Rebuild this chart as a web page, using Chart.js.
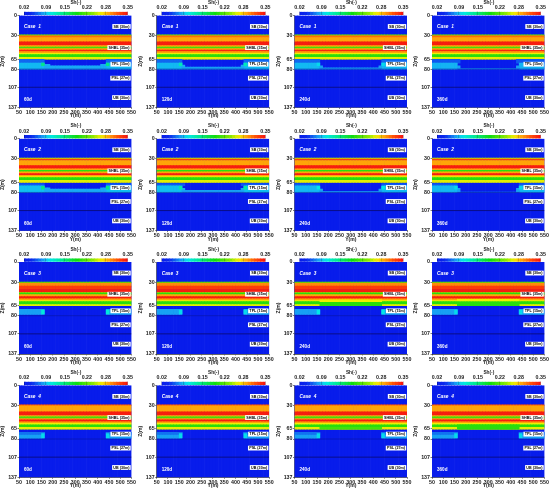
<!DOCTYPE html>
<html><head><meta charset="utf-8">
<style>
html,body{margin:0;padding:0;background:#fff;width:550px;height:490px;overflow:hidden}
canvas{position:absolute;filter:blur(0.25px)}
</style>
<script src="https://cdn.jsdelivr.net/npm/chart.js@4/dist/chart.umd.min.js"></script>
</head><body>
<script>
const caseNames=['Case  1','Case  2','Case  3','Case  4'];
const dayNames=['60d','120d','240d','360d'];
const yTicks=[50,100,150,200,250,300,350,400,450,500,550];
const zTicks=[0,30,65,80,107,137];
const shTicks=[0.02,0.09,0.15,0.22,0.28,0.35];
const layerNames=['SB (30m)','SHBL (35m)','TPL (15m)','PSL (27m)','UB (30m)'];
const layerDepths=[16.5,48,72.7,93.5,122.4];
const boundaryDepths=[80,107];
const shLevels=[0.02,0.03,0.04,0.05,0.06,0.07,0.08,0.09,0.1,0.11,0.12,0.13,0.14,0.15,0.16,0.17,0.18,0.19,0.2,0.21,0.22,0.23,0.24,0.25,0.26,0.27,0.28,0.29,0.3,0.31,0.32,0.33,0.34,0.35];
const yCells=[56.25,68.75,81.25,93.75,106.25,118.75,131.25,143.75,156.25,168.75,181.25,193.75,206.25,218.75,231.25,243.75,256.25,268.75,281.25,293.75,306.25,318.75,331.25,343.75,356.25,368.75,381.25,393.75,406.25,418.75,431.25,443.75,456.25,468.75,481.25,493.75,506.25,518.75,531.25,543.75];

// hydrate bands: [top depth, bottom depth, Sh]
const bandsCase1=[[0,29,.02],[29,30.5,.225],[30.5,33,.31],[33,39.5,.29],[39.5,45,.345],[45,47,.29],[47,49.5,.21],[49.5,51.5,.29],[51.5,54,.34],[54,56.5,.29],[56.5,58.5,.265],[58.5,62.5,.2],[62.5,65.3,.262]];
const bandsCase2=[[0,29,.02],[29,30.5,.25],[30.5,32.5,.33],[32.5,40,.29],[40,45,.345],[45,47,.29],[47,49.5,.2],[49.5,52,.29],[52,54.5,.345],[54.5,56.5,.29],[56.5,58,.265],[58,62,.2],[62,65,.262]];
const bandsCase3=[[0,29.8,.02],[29.8,31.3,.21],[31.3,36,.3],[36,41,.33],[41,45,.345],[45,45.8,.29],[45.8,48.5,.2],[48.5,51.5,.29],[51.5,55,.345],[55,57.5,.29],[57.5,59,.265],[59,63.5,.2],[63.5,65,.262]];
const bandsCase4=[[0,29.2,.02],[29.2,30.5,.32],[30.5,39.5,.29],[39.5,45,.345],[45,47,.29],[47,49.5,.21],[49.5,51.5,.29],[51.5,54.5,.345],[54.5,56.5,.29],[56.5,59,.265],[59,62.5,.2],[62.5,65.3,.262]];

// local zones: [Y start, Y end, top depth, bottom depth, Sh]
const zonesC1D60=[[50,162.5,65.5,71,.065],[437.5,550,65.5,71,.065],[50,162.5,71,80,.09],[437.5,550,71,80,.09],[162.5,437.5,75,80,.085],[162.5,187.5,73,75,.085],[412.5,437.5,73,75,.085],[150,162.5,71,75,.145],[437.5,450,71,75,.145]];
const zonesC1D120=[[50,162.5,65.5,71,.065],[437.5,550,65.5,71,.065],[50,162.5,71,80,.09],[437.5,550,71,80,.09],[162.5,437.5,77,80,.082],[162.5,175,74,77,.085],[425,437.5,74,77,.085],[150,162.5,71,75,.125],[437.5,450,71,75,.125]];
const zonesC1D240=[[50,162.5,65.5,71,.065],[437.5,550,65.5,71,.065],[50,162.5,71,80,.09],[437.5,550,71,80,.09],[162.5,437.5,78,80,.078],[162.5,175,75,78,.082],[425,437.5,75,78,.082],[150,162.5,71,75,.1],[437.5,450,71,75,.1]];
const zonesC1D360=[[50,175,65.5,71,.06],[425,550,65.5,71,.06],[50,162.5,71,80,.088],[437.5,550,71,80,.088],[162.5,437.5,79,80,.068],[162.5,175,75,79,.082],[425,437.5,75,79,.082]];
const zonesC2D60=[[50,162.5,67,70,.06],[437.5,550,67,70,.06],[50,162.5,70,80,.092],[437.5,550,70,80,.092],[162.5,437.5,75,80,.085],[162.5,187.5,73,75,.085],[412.5,437.5,73,75,.085],[150,162.5,71,75,.145],[437.5,450,71,75,.145]];
const zonesC2D120=[[50,175,67,70,.06],[425,550,67,70,.06],[50,162.5,70,80,.092],[437.5,550,70,80,.092],[162.5,437.5,77,80,.082],[162.5,175,74,77,.085],[425,437.5,74,77,.085],[150,162.5,71,75,.13],[437.5,450,71,75,.13]];
const zonesC2D240=[[50,162.5,67,70,.06],[437.5,550,67,70,.06],[50,162.5,70,80,.09],[437.5,550,70,80,.09],[162.5,437.5,78.5,80,.075],[162.5,175,75,78.5,.082],[425,437.5,75,78.5,.082],[150,162.5,71,75,.105],[437.5,450,71,75,.105]];
const zonesC2D360=[[50,162.5,67,70,.06],[437.5,550,67,70,.06],[50,162.5,70,80,.09],[437.5,550,70,80,.09],[162.5,437.5,79.3,80,.06],[162.5,175,74,79.3,.082],[425,437.5,74,79.3,.082],[150,162.5,71,75,.1],[437.5,450,71,75,.1]];
const zonesC3D60=[[50,162.5,70.5,78,.082],[437.5,550,70.5,78,.082],[150,162.5,71.5,77.5,.11],[437.5,450,71.5,77.5,.11]];
const zonesC3D120=[[50,162.5,70.5,78,.082],[437.5,550,70.5,78,.082],[150,162.5,71.5,77.5,.1],[437.5,450,71.5,77.5,.1]];
const zonesC3D240=[[162.5,437.5,59,65,.2],[162.5,437.5,56.5,59,.265],[50,162.5,70.5,78,.082],[437.5,550,70.5,78,.082],[150,162.5,71.5,77.5,.105],[437.5,450,71.5,77.5,.105]];
const zonesC3D360=[[162.5,437.5,58,65,.2],[162.5,437.5,55.5,58,.265],[50,162.5,70.5,78,.082],[437.5,550,70.5,78,.082],[150,162.5,71.5,77.5,.1],[437.5,450,71.5,77.5,.1]];
const zonesC4D60=[[50,162.5,70,79,.082],[437.5,550,70,79,.082],[50,162.5,70,73,.068],[437.5,550,70,73,.068],[150,162.5,72,78,.1],[437.5,450,72,78,.1]];
const zonesC4D120=[[50,162.5,70,79,.082],[437.5,550,70,79,.082],[50,162.5,70,73,.068],[437.5,550,70,73,.068],[150,162.5,72,78,.1],[437.5,450,72,78,.1]];
const zonesC4D240=[[162.5,437.5,62.5,65.3,.21],[50,162.5,70,79,.082],[437.5,550,70,79,.082],[50,162.5,70,73,.068],[437.5,550,70,73,.068],[150,162.5,72,78,.1],[437.5,450,72,78,.1]];
const zonesC4D360=[[162.5,437.5,59,65.3,.2],[50,162.5,70,79,.082],[437.5,550,70,79,.082],[50,162.5,70,73,.068],[437.5,550,70,73,.068],[150,162.5,72,78,.1],[437.5,450,72,78,.1]];

const bandsByCase=[bandsCase1,bandsCase2,bandsCase3,bandsCase4];
const zonesByPanel=[
 [zonesC1D60,zonesC1D120,zonesC1D240,zonesC1D360],
 [zonesC2D60,zonesC2D120,zonesC2D240,zonesC2D360],
 [zonesC3D60,zonesC3D120,zonesC3D240,zonesC3D360],
 [zonesC4D60,zonesC4D120,zonesC4D240,zonesC4D360]];

// colour map
const cmapSh=[.02,.045,.065,.085,.105,.14,.19,.24,.265,.29,.32,.35];
const cmapRGB=[[8,28,235],[10,40,238],[16,104,240],[24,170,245],[0,232,232],[0,232,150],[16,220,16],[140,232,0],[240,240,0],[255,165,8],[255,80,8],[245,20,16]];
function shColor(v){
  let i=0; while(i<cmapSh.length-2&&v>cmapSh[i+1])i++;
  const t=Math.max(0,Math.min(1,(v-cmapSh[i])/(cmapSh[i+1]-cmapSh[i])));
  const c=cmapRGB[i].map((a,k)=>Math.round(a+(cmapRGB[i+1][k]-a)*t));
  return `rgb(${c[0]},${c[1]},${c[2]})`;
}

const FONT='"Liberation Sans",Arial,sans-serif';
const plotLeft=[19,156.7,294.5,432];
const plotTop=[15.4,138.7,262,385.3];
const PW=112.5,PH=92;
Chart.defaults.animation=false;
Chart.defaults.responsive=false;
Chart.defaults.font.family=FONT;
Chart.defaults.color='#222';

function mk(l,t,w,h){
  const c=document.createElement('canvas');
  c.style.left=l+'px';c.style.top=t+'px';c.width=w;c.height=h;
  c.style.width=w+'px';c.style.height=h+'px';
  document.body.appendChild(c);return c;
}
const labelPlugin={id:'layerLabels',afterDatasetsDraw(ch,a,o){
  const {ctx,chartArea:ar,scales:{y}}=ch;
  ctx.save();
  ctx.textBaseline='middle';
  layerNames.forEach((n,i)=>{
    const py=y.getPixelForValue(layerDepths[i]);
    ctx.font=`bold 3.7px ${FONT}`;
    const tw=ctx.measureText(n).width+2.4;
    ctx.fillStyle='#fff';
    ctx.fillRect(ar.right-0.8-tw,py-2.4,tw,4.8);
    ctx.fillStyle='#000';ctx.textAlign='center';
    ctx.fillText(n,ar.right-0.8-tw/2,py+0.2);
  });
  ctx.fillStyle='#fff';ctx.textAlign='left';
  ctx.font=`italic bold 4.8px ${FONT}`;
  ctx.fillText(o.caseName,ar.left+5,y.getPixelForValue(17));
  ctx.font=`bold 4.6px ${FONT}`;
  ctx.fillText(o.dayName,ar.left+5,y.getPixelForValue(126));
  ctx.restore();
}};

function fixedTicks(vals){return s=>{s.ticks=vals.map(v=>({value:v}));};}

function panel(r,c){
  const padTop=5,axisH=11.4,leftW=19;
  const L=Math.floor(plotLeft[c]-leftW), fracL=plotLeft[c]-leftW-L;
  const T=Math.floor(plotTop[r]-padTop), fracT=plotTop[r]-padTop-T;
  const W=Math.ceil(leftW+PW+8+fracL),H=Math.ceil(padTop+PH+axisH+fracT);
  const cv=mk(L,T,W,H);
  const zones=[[50,550,0,137,.02]].concat(bandsByCase[r].slice(1).map(b=>[50,550,b[0],b[1],b[2]]),zonesByPanel[r][c]);
  const ds=zones.map((z,i)=>({
    type:'bar',
    data:yCells.filter(x=>x>=z[0]&&x<=z[1]).map(x=>({x,y:[z[2],z[3]]})),
    backgroundColor:shColor(z[4]),borderWidth:0,
    barPercentage:1,categoryPercentage:1,grouped:false,
    order:1000-i
  }));
  boundaryDepths.forEach((d,i)=>ds.push({
    type:'line',data:[{x:50,y:d},{x:550,y:d}],
    borderColor:i?'#0a0a70':'#0a1490',borderWidth:i?0.8:0.5,pointRadius:0,order:-1
  }));
  new Chart(cv,{
    data:{datasets:ds},
    options:{
      layout:{padding:{left:fracL,top:padTop+fracT,right:W-fracL-leftW-PW,bottom:0}},
      plugins:{legend:{display:false},tooltip:{enabled:false},
        layerLabels:{caseName:caseNames[r],dayName:dayNames[c]}},
      scales:{
        x:{type:'linear',min:50,max:550,offset:false,
          afterBuildTicks:fixedTicks(yTicks),
          afterFit(s){s.height=H-padTop-fracT-PH;},
          grid:{drawOnChartArea:false,offset:false,tickLength:1.5,color:'#000',lineWidth:.5},
          border:{display:true,color:'#000',width:.6},
          ticks:{font:{size:5.3,weight:'bold'},padding:0.5,maxRotation:0,autoSkip:false},
          title:{display:true,text:'Y(m)',font:{size:5,weight:'bold'},padding:{top:0,bottom:0}}},
        y:{type:'linear',min:0,max:137,reverse:true,
          afterBuildTicks:fixedTicks(zTicks),
          afterFit(s){s.width=leftW;},
          grid:{drawOnChartArea:false,tickLength:1.5,color:'#000',lineWidth:.5},
          border:{display:true,color:'#000',width:.6},
          ticks:{font:{size:5.3,weight:'bold'},padding:0.5,autoSkip:false},
          title:{display:true,text:'Z(m)',font:{size:5,weight:'bold'},padding:{top:0,bottom:0}}}
      }
    },
    plugins:[labelPlugin]
  });
}

function colorbar(r,c){
  const axisH=11.9,padX=10;
  const barL=plotLeft[c]+5,barW=103.7,barT=plotTop[r]-3.6;
  const top=barT-axisH,T=Math.floor(top),fracT=top-T;
  const L=Math.floor(barL-padX),fracL=barL-padX-L;
  const W=Math.ceil(barW+2*padX+fracL),H=Math.ceil(fracT+axisH+3.4);
  const cv=mk(L,T,W,H);
  new Chart(cv,{
    type:'bar',
    data:{datasets:[{
      data:shLevels.map(v=>({x:v,y:1})),
      backgroundColor:shLevels.map(shColor),
      barPercentage:1,categoryPercentage:1,borderWidth:0}]},
    options:{
      layout:{padding:{left:padX+fracL,right:W-fracL-padX-barW,top:fracT,bottom:H-fracT-axisH-3.3}},
      plugins:{legend:{display:false},tooltip:{enabled:false}},
      scales:{
        x:{type:'linear',position:'top',min:.02,max:.35,offset:false,
          afterBuildTicks:fixedTicks(shTicks),
          afterFit(s){s.height=axisH;},
          grid:{drawOnChartArea:true,offset:false,z:1,color:'rgba(0,0,0,.35)',lineWidth:.5,tickLength:.5},
          border:{display:false},
          ticks:{font:{size:5.3,weight:'bold'},padding:0.2,maxRotation:0,autoSkip:false,
            callback:v=>v.toFixed(2)},
          title:{display:true,text:'Sh(-)',font:{size:4.8,weight:'bold'},padding:{top:0,bottom:0}}},
        y:{display:false,min:0,max:1}
      }
    }
  });
}
for(let r=0;r<4;r++)for(let c=0;c<4;c++){panel(r,c);colorbar(r,c);}
</script>
</body></html>
